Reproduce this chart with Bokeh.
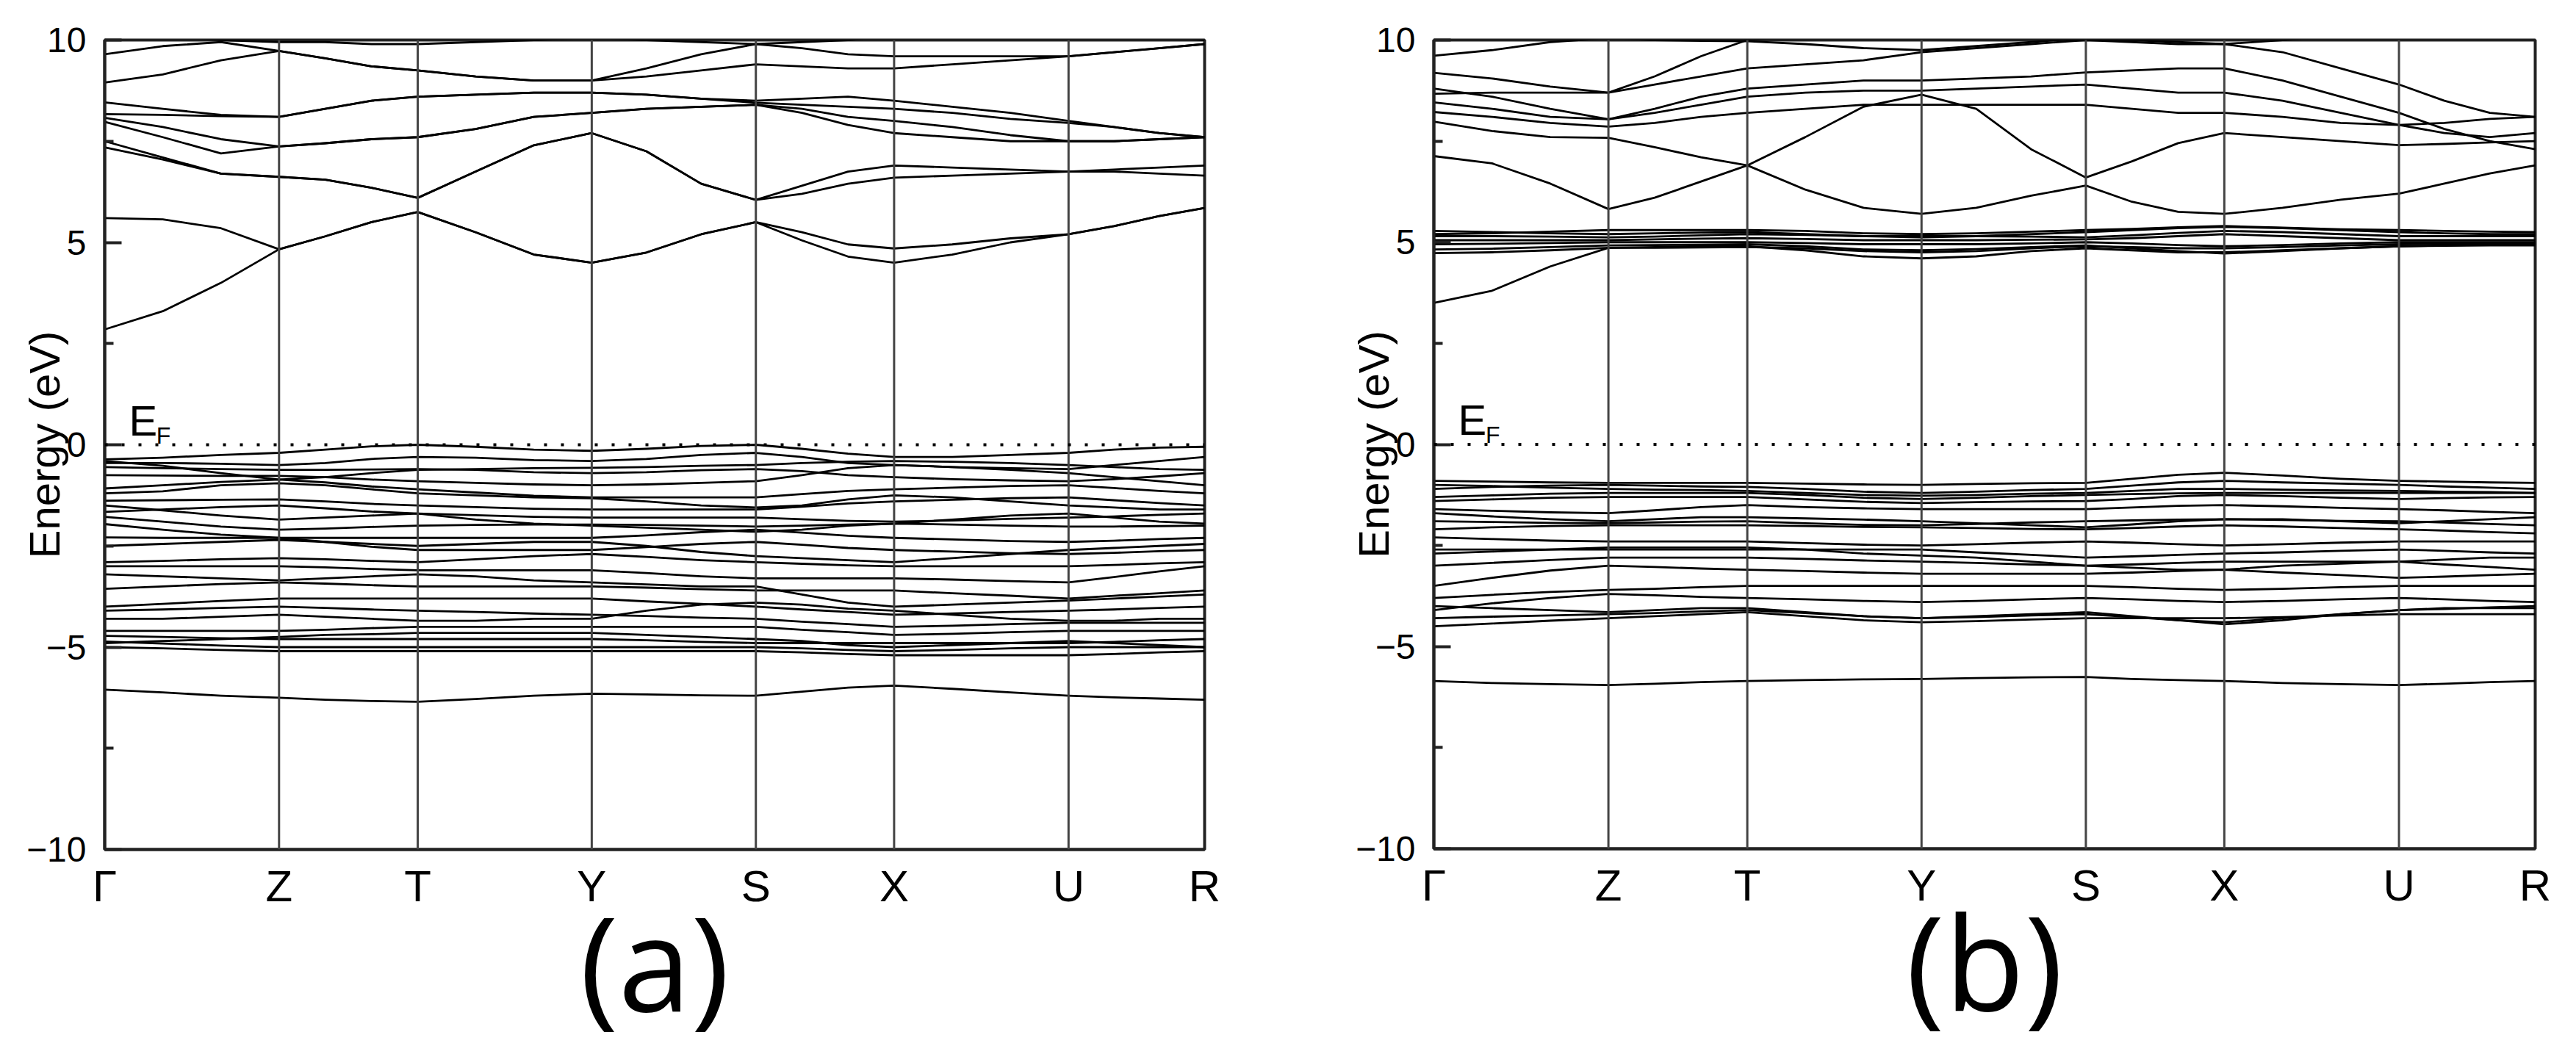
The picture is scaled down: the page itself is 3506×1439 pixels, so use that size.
from bokeh.plotting import figure
from bokeh.layouts import row
from bokeh.models import Range1d, FixedTicker, Span
from bokeh.core.properties import value
from bokeh.embed import file_html
from bokeh.resources import INLINE

# ---------------- data ----------------
KPOINT_LABELS = ["Γ", "Z", "T", "Y", "S", "X", "U", "R"]
KPOINT_POS = [0.0, 0.1585, 0.2846, 0.4428, 0.5920, 0.7177, 0.8763, 1.0]

K_GRID = [0.0, 0.0528, 0.1057, 0.1585,
          0.2005, 0.2426, 0.2846,
          0.3373, 0.3901, 0.4428,
          0.4925, 0.5423, 0.5920,
          0.6339, 0.6758, 0.7177,
          0.7706, 0.8234, 0.8763,
          0.9175, 0.9588, 1.0]

Y_TICKS = [-10, -5, 0, 5, 10]
Y_MINOR = [-7.5, -2.5, 2.5, 7.5]

# panel (a): conduction bands
A_COND = [
    [2.85, 3.3, 4.0, 4.83, 5.15, 5.5, 5.75, 5.25, 4.7, 4.5, 4.75, 5.2, 5.5, 5.05, 4.65, 4.5, 4.7, 5.0, 5.2, 5.4, 5.65, 5.85],
    [5.6, 5.57, 5.35, 4.83, 5.15, 5.5, 5.75, 5.25, 4.7, 4.5, 4.75, 5.2, 5.5, 5.25, 4.95, 4.85, 4.95, 5.1, 5.2, 5.4, 5.65, 5.85],
    [7.35, 7.05, 6.7, 6.62, 6.55, 6.35, 6.1, 6.75, 7.4, 7.7, 7.25, 6.45, 6.05, 6.4, 6.75, 6.9, 6.85, 6.8, 6.75, 6.8, 6.85, 6.9],
    [7.5, 7.1, 6.7, 6.62, 6.55, 6.35, 6.1, 6.75, 7.4, 7.7, 7.25, 6.45, 6.05, 6.2, 6.45, 6.6, 6.65, 6.7, 6.75, 6.75, 6.7, 6.65],
    [7.98, 7.6, 7.2, 7.37, 7.45, 7.55, 7.6, 7.8, 8.1, 8.2, 8.3, 8.35, 8.4, 8.3, 8.1, 8.0, 7.85, 7.65, 7.5, 7.5, 7.55, 7.6],
    [8.08, 7.85, 7.55, 7.37, 7.45, 7.55, 7.6, 7.8, 8.1, 8.2, 8.3, 8.35, 8.4, 8.2, 7.9, 7.7, 7.6, 7.5, 7.5, 7.5, 7.55, 7.6],
    [8.17, 8.15, 8.12, 8.1, 8.3, 8.5, 8.6, 8.65, 8.7, 8.7, 8.65, 8.55, 8.45, 8.4, 8.35, 8.3, 8.2, 8.05, 7.95, 7.85, 7.7, 7.6],
    [8.46, 8.3, 8.15, 8.1, 8.3, 8.5, 8.6, 8.65, 8.7, 8.7, 8.65, 8.55, 8.5, 8.55, 8.6, 8.5, 8.35, 8.2, 8.0, 7.85, 7.7, 7.6],
    [8.95, 9.15, 9.5, 9.73, 9.55, 9.35, 9.25, 9.1, 9.0, 9.0, 9.1, 9.25, 9.4, 9.35, 9.3, 9.3, 9.4, 9.5, 9.6, 9.7, 9.8, 9.9],
    [9.65, 9.85, 9.95, 9.73, 9.55, 9.35, 9.25, 9.1, 9.0, 9.0, 9.3, 9.65, 9.9, 9.8, 9.65, 9.6, 9.6, 9.6, 9.6, 9.7, 9.8, 9.9],
    [10.2, 10.1, 10.0, 9.95, 9.95, 9.9, 9.9, 9.95, 10.0, 10.05, 10.0, 9.95, 9.9, 9.95, 10.0, 10.1, 10.2, 10.3, 10.3, 10.2, 10.1, 10.0],
]

# panel (a): valence bands
A_VAL = [
    [-0.36, -0.32, -0.25, -0.2, -0.12, -0.04, 0.0, -0.05, -0.12, -0.15, -0.1, -0.03, 0.0, -0.1, -0.22, -0.3, -0.3, -0.25, -0.2, -0.12, -0.07, -0.05],
    [-0.45, -0.45, -0.47, -0.5, -0.45, -0.35, -0.3, -0.32, -0.38, -0.4, -0.35, -0.25, -0.2, -0.3, -0.45, -0.5, -0.55, -0.58, -0.6, -0.5, -0.4, -0.3],
    [-0.4, -0.52, -0.7, -0.86, -0.8, -0.7, -0.62, -0.6, -0.58, -0.57, -0.55, -0.52, -0.5, -0.45, -0.42, -0.4, -0.42, -0.45, -0.5, -0.55, -0.6, -0.62],
    [-0.55, -0.58, -0.6, -0.62, -0.62, -0.61, -0.6, -0.62, -0.68, -0.7, -0.68, -0.63, -0.6, -0.65, -0.75, -0.8, -0.85, -0.88, -0.9, -0.85, -0.78, -0.7],
    [-0.75, -0.76, -0.77, -0.77, -0.8, -0.86, -0.9, -0.94, -0.98, -1.0, -0.98, -0.94, -0.9, -0.75, -0.58, -0.5, -0.55, -0.62, -0.7, -0.8, -0.9, -1.0],
    [-1.08, -1.0, -0.92, -0.86, -0.93, -1.03, -1.1, -1.18, -1.26, -1.3, -1.3, -1.3, -1.3, -1.22, -1.14, -1.1, -1.06, -1.02, -1.0, -1.07, -1.14, -1.2],
    [-1.2, -1.15, -1.0, -0.95, -1.0, -1.1, -1.2, -1.25, -1.3, -1.32, -1.4, -1.5, -1.55, -1.5, -1.35, -1.25, -1.3, -1.4, -1.5, -1.55, -1.6, -1.6],
    [-1.38, -1.37, -1.36, -1.35, -1.4, -1.46, -1.5, -1.54, -1.58, -1.6, -1.6, -1.6, -1.6, -1.53, -1.45, -1.4, -1.36, -1.32, -1.3, -1.37, -1.44, -1.5],
    [-1.5, -1.62, -1.75, -1.85, -1.8, -1.75, -1.7, -1.85, -1.95, -2.0, -2.05, -2.1, -2.15, -2.1, -2.0, -1.95, -1.85, -1.75, -1.7, -1.8, -1.9, -1.95],
    [-1.66, -1.6, -1.54, -1.5, -1.57, -1.65, -1.7, -1.74, -1.78, -1.8, -1.8, -1.8, -1.8, -1.84, -1.88, -1.9, -1.87, -1.83, -1.8, -1.77, -1.73, -1.7],
    [-1.78, -1.9, -2.02, -2.1, -2.07, -2.03, -2.0, -1.98, -1.97, -1.97, -1.98, -2.0, -2.02, -2.0, -1.97, -1.95, -1.97, -2.0, -2.02, -2.02, -2.01, -2.0],
    [-1.96, -2.1, -2.22, -2.3, -2.3, -2.3, -2.3, -2.3, -2.3, -2.3, -2.24, -2.16, -2.1, -2.17, -2.25, -2.3, -2.34, -2.38, -2.4, -2.37, -2.33, -2.3],
    [-2.29, -2.3, -2.3, -2.3, -2.4, -2.52, -2.6, -2.6, -2.6, -2.6, -2.53, -2.45, -2.4, -2.47, -2.55, -2.6, -2.64, -2.68, -2.7, -2.67, -2.63, -2.6],
    [-2.5, -2.45, -2.4, -2.35, -2.4, -2.45, -2.5, -2.45, -2.4, -2.4, -2.5, -2.65, -2.75, -2.8, -2.85, -2.9, -2.8, -2.7, -2.6, -2.55, -2.5, -2.45],
    [-2.9, -2.87, -2.83, -2.8, -2.83, -2.87, -2.9, -2.83, -2.75, -2.7, -2.77, -2.85, -2.9, -2.94, -2.98, -3.0, -3.0, -3.0, -3.0, -2.97, -2.93, -2.9],
    [-3.0, -3.0, -3.0, -3.0, -3.03, -3.07, -3.1, -3.1, -3.1, -3.1, -3.17, -3.25, -3.3, -3.3, -3.3, -3.3, -3.33, -3.37, -3.4, -3.27, -3.13, -3.0],
    [-3.2, -3.25, -3.3, -3.35, -3.3, -3.25, -3.2, -3.25, -3.35, -3.4, -3.45, -3.5, -3.5, -3.7, -3.9, -4.0, -3.95, -3.9, -3.85, -3.8, -3.75, -3.7],
    [-3.56, -3.5, -3.44, -3.4, -3.43, -3.47, -3.5, -3.5, -3.5, -3.5, -3.53, -3.57, -3.6, -3.6, -3.6, -3.6, -3.67, -3.73, -3.8, -3.73, -3.67, -3.6],
    [-4.0, -3.93, -3.86, -3.8, -3.8, -3.8, -3.8, -3.8, -3.8, -3.8, -3.87, -3.93, -4.0, -4.07, -4.13, -4.2, -4.17, -4.13, -4.1, -4.07, -4.03, -4.0],
    [-4.1, -4.07, -4.03, -4.0, -4.03, -4.07, -4.1, -4.13, -4.17, -4.2, -4.23, -4.27, -4.3, -4.37, -4.43, -4.5, -4.47, -4.43, -4.4, -4.4, -4.4, -4.4],
    [-4.3, -4.3, -4.25, -4.2, -4.25, -4.3, -4.35, -4.35, -4.3, -4.3, -4.1, -3.95, -3.9, -3.95, -4.05, -4.1, -4.2, -4.3, -4.35, -4.35, -4.3, -4.3],
    [-4.6, -4.6, -4.6, -4.6, -4.57, -4.53, -4.5, -4.5, -4.5, -4.5, -4.5, -4.5, -4.5, -4.57, -4.63, -4.7, -4.67, -4.63, -4.6, -4.6, -4.6, -4.6],
    [-4.72, -4.75, -4.78, -4.8, -4.8, -4.8, -4.8, -4.8, -4.8, -4.8, -4.83, -4.87, -4.9, -4.9, -4.9, -4.9, -4.9, -4.9, -4.9, -4.87, -4.83, -4.8],
    [-4.9, -4.85, -4.8, -4.75, -4.7, -4.68, -4.65, -4.65, -4.65, -4.65, -4.7, -4.75, -4.8, -4.85, -4.95, -5.0, -4.95, -4.9, -4.85, -4.9, -4.95, -5.0],
    [-4.86, -4.91, -4.96, -5.0, -5.0, -5.0, -5.0, -5.0, -5.0, -5.0, -5.0, -5.0, -5.0, -5.03, -5.07, -5.1, -5.07, -5.03, -5.0, -5.0, -5.0, -5.0],
    [-5.0, -5.03, -5.07, -5.1, -5.1, -5.1, -5.1, -5.1, -5.1, -5.1, -5.1, -5.1, -5.1, -5.13, -5.17, -5.2, -5.2, -5.2, -5.2, -5.17, -5.13, -5.1],
    [-6.05, -6.12, -6.2, -6.25, -6.3, -6.33, -6.35, -6.28, -6.2, -6.15, -6.17, -6.19, -6.2, -6.1, -6.0, -5.95, -6.03, -6.12, -6.2, -6.24, -6.27, -6.3],
]

# panel (b): conduction bands
B_COND = [
    [3.5, 3.8, 4.4, 4.86, 4.88, 4.9, 4.9, 4.8, 4.65, 4.6, 4.65, 4.78, 4.85, 4.8, 4.75, 4.75, 4.8, 4.85, 4.9, 4.92, 4.94, 4.95],
    [4.73, 4.75, 4.8, 4.86, 4.86, 4.87, 4.88, 4.85, 4.78, 4.75, 4.78, 4.85, 4.9, 4.88, 4.85, 4.85, 4.88, 4.92, 4.95, 4.96, 4.97, 4.98],
    [4.82, 4.84, 4.88, 4.92, 4.93, 4.94, 4.95, 4.9, 4.82, 4.8, 4.83, 4.88, 4.92, 4.85, 4.78, 4.72, 4.78, 4.85, 4.9, 4.91, 4.92, 4.92],
    [4.95, 4.96, 4.98, 5.0, 5.0, 5.0, 5.0, 4.98, 4.95, 4.95, 4.95, 4.97, 5.0, 4.97, 4.93, 4.9, 4.93, 4.97, 5.0, 5.0, 5.0, 5.0],
    [5.05, 5.05, 5.05, 5.05, 5.07, 5.09, 5.1, 5.08, 5.05, 5.05, 5.05, 5.06, 5.07, 5.1, 5.15, 5.2, 5.15, 5.1, 5.05, 5.05, 5.05, 5.05],
    [5.15, 5.15, 5.14, 5.12, 5.14, 5.17, 5.2, 5.18, 5.15, 5.15, 5.15, 5.14, 5.12, 5.17, 5.23, 5.28, 5.25, 5.2, 5.15, 5.15, 5.15, 5.15],
    [5.28, 5.25, 5.22, 5.2, 5.22, 5.24, 5.25, 5.2, 5.15, 5.12, 5.15, 5.2, 5.25, 5.3, 5.35, 5.38, 5.35, 5.3, 5.25, 5.22, 5.2, 5.2],
    [5.2, 5.22, 5.26, 5.3, 5.3, 5.3, 5.3, 5.28, 5.22, 5.2, 5.22, 5.26, 5.3, 5.33, 5.37, 5.4, 5.36, 5.32, 5.3, 5.28, 5.26, 5.25],
    [7.13, 6.95, 6.45, 5.82, 6.1, 6.5, 6.9, 6.3, 5.85, 5.7, 5.85, 6.15, 6.4, 6.0, 5.75, 5.7, 5.85, 6.05, 6.2, 6.45, 6.7, 6.9],
    [7.98, 7.75, 7.6, 7.58, 7.35, 7.1, 6.9, 7.6, 8.35, 8.65, 8.3, 7.3, 6.6, 7.0, 7.45, 7.7, 7.6, 7.5, 7.4, 7.43, 7.47, 7.5],
    [8.22, 8.1, 7.95, 7.86, 7.95, 8.1, 8.2, 8.3, 8.4, 8.4, 8.4, 8.4, 8.4, 8.3, 8.2, 8.2, 8.1, 7.95, 7.9, 7.95, 8.05, 8.1],
    [8.46, 8.3, 8.1, 8.04, 8.2, 8.4, 8.6, 8.7, 8.75, 8.75, 8.8, 8.85, 8.9, 8.8, 8.7, 8.7, 8.5, 8.2, 7.9, 7.7, 7.6, 7.7],
    [8.8, 8.6, 8.3, 8.04, 8.3, 8.6, 8.8, 8.9, 9.0, 9.0, 9.05, 9.1, 9.2, 9.25, 9.3, 9.3, 9.0, 8.6, 8.2, 7.8, 7.5, 7.3],
    [8.67, 8.7, 8.7, 8.7, 8.9, 9.1, 9.3, 9.4, 9.5, 9.7, 9.8, 9.9, 10.0, 9.95, 9.9, 9.9, 9.7, 9.3, 8.9, 8.5, 8.2, 8.1],
    [9.19, 9.05, 8.85, 8.7, 9.1, 9.6, 10.0, 10.1, 10.1, 10.1, 10.1, 10.05, 10.0, 10.0, 9.95, 9.9, 10.0, 10.1, 10.2, 10.3, 10.3, 10.3],
    [9.61, 9.75, 9.95, 10.05, 10.0, 9.98, 9.97, 9.9, 9.8, 9.75, 9.85, 9.95, 10.05, 10.1, 10.2, 10.3, 10.3, 10.3, 10.3, 10.3, 10.3, 10.3],
]

# panel (b): valence bands
B_VAL = [
    [-0.9, -0.92, -0.94, -0.95, -0.95, -0.95, -0.95, -0.97, -0.99, -1.0, -0.98, -0.96, -0.95, -0.85, -0.75, -0.7, -0.77, -0.85, -0.9, -0.92, -0.94, -0.95],
    [-1.0, -1.03, -1.07, -1.1, -1.12, -1.13, -1.15, -1.2, -1.25, -1.27, -1.25, -1.22, -1.2, -1.15, -1.1, -1.1, -1.12, -1.14, -1.15, -1.17, -1.18, -1.2],
    [-1.1, -1.05, -1.02, -1.0, -1.02, -1.04, -1.05, -1.1, -1.17, -1.2, -1.17, -1.13, -1.1, -1.02, -0.94, -0.9, -0.94, -0.97, -1.0, -1.04, -1.07, -1.1],
    [-1.3, -1.26, -1.22, -1.2, -1.2, -1.2, -1.2, -1.25, -1.32, -1.35, -1.32, -1.28, -1.25, -1.23, -1.21, -1.2, -1.2, -1.2, -1.2, -1.2, -1.2, -1.2],
    [-1.4, -1.36, -1.32, -1.3, -1.3, -1.3, -1.3, -1.36, -1.42, -1.45, -1.43, -1.41, -1.4, -1.35, -1.28, -1.25, -1.28, -1.32, -1.35, -1.33, -1.31, -1.3],
    [-1.6, -1.64, -1.68, -1.7, -1.63, -1.55, -1.5, -1.55, -1.58, -1.6, -1.6, -1.6, -1.6, -1.56, -1.52, -1.5, -1.53, -1.57, -1.6, -1.63, -1.67, -1.7],
    [-1.7, -1.78, -1.85, -1.9, -1.85, -1.8, -1.8, -1.83, -1.86, -1.9, -1.95, -2.0, -2.05, -1.98, -1.9, -1.85, -1.85, -1.9, -1.95, -1.9, -1.85, -1.8],
    [-1.9, -1.92, -1.94, -1.95, -1.93, -1.91, -1.9, -1.95, -1.99, -2.0, -1.97, -1.93, -1.9, -1.88, -1.86, -1.85, -1.87, -1.89, -1.9, -1.93, -1.97, -2.0],
    [-2.1, -2.05, -2.02, -2.0, -2.0, -2.0, -2.0, -2.02, -2.04, -2.05, -2.07, -2.09, -2.1, -2.07, -2.03, -2.0, -2.03, -2.07, -2.1, -2.13, -2.17, -2.2],
    [-2.3, -2.34, -2.38, -2.4, -2.4, -2.4, -2.4, -2.44, -2.48, -2.5, -2.47, -2.43, -2.4, -2.43, -2.47, -2.5, -2.47, -2.43, -2.4, -2.4, -2.4, -2.4],
    [-2.6, -2.6, -2.6, -2.6, -2.6, -2.6, -2.6, -2.6, -2.6, -2.6, -2.67, -2.73, -2.8, -2.77, -2.73, -2.7, -2.67, -2.63, -2.6, -2.63, -2.67, -2.7],
    [-2.7, -2.65, -2.6, -2.55, -2.55, -2.55, -2.55, -2.6, -2.7, -2.75, -2.8, -2.9, -3.0, -3.05, -3.1, -3.1, -3.0, -2.95, -2.9, -2.85, -2.8, -2.8],
    [-3.0, -2.93, -2.86, -2.8, -2.8, -2.8, -2.8, -2.83, -2.87, -2.9, -2.93, -2.97, -3.0, -2.97, -2.93, -2.9, -2.9, -2.9, -2.9, -2.97, -3.03, -3.1],
    [-3.5, -3.3, -3.12, -3.0, -3.03, -3.07, -3.1, -3.13, -3.17, -3.2, -3.2, -3.2, -3.2, -3.17, -3.13, -3.1, -3.17, -3.23, -3.3, -3.27, -3.23, -3.2],
    [-3.8, -3.72, -3.65, -3.6, -3.57, -3.53, -3.5, -3.5, -3.5, -3.5, -3.5, -3.5, -3.5, -3.53, -3.57, -3.6, -3.57, -3.53, -3.5, -3.5, -3.5, -3.5],
    [-4.1, -3.93, -3.8, -3.7, -3.73, -3.77, -3.8, -3.83, -3.87, -3.9, -3.87, -3.83, -3.8, -3.83, -3.87, -3.9, -3.87, -3.83, -3.8, -3.83, -3.87, -3.9],
    [-4.0, -4.05, -4.1, -4.15, -4.1, -4.05, -4.05, -4.15, -4.25, -4.3, -4.25, -4.2, -4.15, -4.25, -4.35, -4.45, -4.35, -4.2, -4.1, -4.05, -4.05, -4.05],
    [-4.3, -4.26, -4.23, -4.2, -4.17, -4.13, -4.1, -4.17, -4.25, -4.3, -4.27, -4.23, -4.2, -4.27, -4.35, -4.4, -4.3, -4.2, -4.1, -4.07, -4.03, -4.0],
    [-4.5, -4.43, -4.36, -4.3, -4.25, -4.2, -4.15, -4.25, -4.35, -4.4, -4.37, -4.33, -4.3, -4.3, -4.3, -4.3, -4.27, -4.23, -4.2, -4.2, -4.2, -4.2],
    [-5.85, -5.9, -5.93, -5.95, -5.92, -5.88, -5.85, -5.83, -5.81, -5.8, -5.78, -5.76, -5.75, -5.8, -5.83, -5.85, -5.9, -5.93, -5.95, -5.92, -5.88, -5.85],
]

PANEL_TAGS = ["(a)", "(b)"]
Y_LABEL = "Energy (eV)"
FERMI_MAIN = "E"
FERMI_SUB = "F"

SANS = "Liberation Sans"
TAG_FONT = "Open Sans"


def make_panel(bands, tag, left, top, fw, fh, right, bottom):
    p = figure(output_backend="svg", toolbar_location=None,
               frame_width=fw, frame_height=fh,
               min_border_left=left, min_border_top=top,
               min_border_right=right, min_border_bottom=bottom,
               x_range=Range1d(0, 1), y_range=Range1d(-10, 10),
               background_fill_color="white", border_fill_color="white")
    p.grid.visible = False
    p.outline_line_color = "#222222"
    p.outline_line_width = 4

    # band lines
    p.multi_line(xs=[K_GRID] * len(bands), ys=bands,
                 line_color="black", line_width=2.8, line_join="round")

    # high-symmetry vertical lines
    for kx in KPOINT_POS[1:-1]:
        p.add_layout(Span(location=kx, dimension="height",
                          line_color="#444444", line_width=3))

    # Fermi level
    p.add_layout(Span(location=0, dimension="width", line_color="black",
                      line_width=4, line_dash="4 19"))

    p.text(x=[0.022], y=[0.6], text=[FERMI_MAIN], text_font=value(SANS),
           text_font_size="58px", text_color="black",
           text_align="left", text_baseline="alphabetic")
    p.text(x=[0.047], y=[0.23], text=[FERMI_SUB], text_font=value(SANS),
           text_font_size="32px", text_color="black",
           text_align="left", text_baseline="alphabetic")

    # x axis: k-point labels, panel tag as axis label
    xa = p.xaxis[0]
    xa.ticker = FixedTicker(ticks=KPOINT_POS)
    xa.major_label_overrides = {k: lab for k, lab in zip(KPOINT_POS, KPOINT_LABELS)}
    xa.major_tick_line_color = None
    xa.minor_tick_line_color = None
    xa.axis_line_color = "#222222"
    xa.axis_line_width = 4
    xa.major_label_text_font = SANS
    xa.major_label_text_font_size = "60px"
    xa.major_label_text_color = "black"
    xa.major_label_standoff = 10
    xa.axis_label = tag
    xa.axis_label_text_font = TAG_FONT
    xa.axis_label_text_font_size = "178px"
    xa.axis_label_text_font_style = "normal"
    xa.axis_label_text_color = "black"
    xa.axis_label_standoff = -56

    # y axis
    ya = p.yaxis[0]
    ya.ticker = FixedTicker(ticks=Y_TICKS, minor_ticks=Y_MINOR)
    ya.major_tick_in = 23
    ya.major_tick_out = 0
    ya.minor_tick_in = 12
    ya.minor_tick_out = 0
    ya.major_tick_line_width = 4
    ya.minor_tick_line_width = 4
    ya.major_tick_line_color = "#222222"
    ya.minor_tick_line_color = "#222222"
    ya.axis_line_color = "#222222"
    ya.axis_line_width = 4
    ya.major_label_text_font = SANS
    ya.major_label_text_font_size = "48px"
    ya.major_label_text_color = "black"
    ya.major_label_standoff = 25
    ya.axis_label = Y_LABEL
    ya.axis_label_text_font = SANS
    ya.axis_label_text_font_size = "58px"
    ya.axis_label_text_font_style = "normal"
    ya.axis_label_text_color = "black"
    ya.axis_label_standoff = -60
    return p


pa = make_panel(A_COND + A_VAL, PANEL_TAGS[0], 142, 54, 1497, 1102, 60, 266)
pb = make_panel(B_COND + B_VAL, PANEL_TAGS[1], 252, 44, 1499, 1101, 30, 277)

layout = row(pa, pb)
open("out.html", "w").write(file_html(layout, INLINE))
